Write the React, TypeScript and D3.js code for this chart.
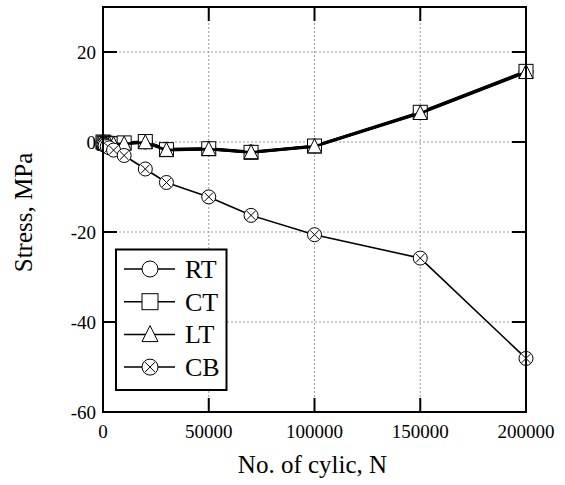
import React from "react";
import * as d3 from "d3";

// Cycle counts shared by all series
const cycles = [0, 500, 1000, 2000, 3000, 5000, 10000, 20000, 30000, 50000, 70000, 100000, 150000, 200000];
const rtStress = [0, -0.2, -0.3, -0.4, -0.4, -0.5, -0.3, 0, -1.6, -1.5, -2.2, -0.9, 6.5, 15.6];
const ctStress = [0, -0.2, -0.3, -0.3, -0.4, -0.4, -0.2, 0.1, -1.7, -1.5, -2.3, -0.9, 6.6, 15.7];
const ltStress = [0, -0.2, -0.4, -0.4, -0.5, -0.5, -0.4, -0.1, -1.8, -1.6, -2.3, -1.0, 6.4, 15.5];
const cbStress = [-0.5, -0.6, -0.8, -1.0, -1.3, -1.8, -3.0, -6.0, -9.0, -12.2, -16.3, -20.6, -25.8, -48.1];

const seriesNames = ["RT", "CT", "LT", "CB"];
const xTicks = [0, 50000, 100000, 150000, 200000];
const yTicks = [20, 0, -20, -40, -60];

const W = 565;
const H = 485;
const left = 103;
const right = 526;
const top = 7;
const bottom = 412;

const x = d3.scaleLinear().domain([0, 200000]).range([left, right]);
const y = d3.scaleLinear().domain([-60, 30]).range([bottom, top]);

const font = "'Liberation Serif', 'Times New Roman', serif";

type Kind = "circle" | "square" | "triangle" | "cross";

function Marker({ kind, cx, cy, s }: { kind: Kind; cx: number; cy: number; s: number }) {
  const r = s / 2;
  const common = { fill: "#fff", stroke: "#000", strokeWidth: 1 };
  if (kind === "circle") return <circle cx={cx} cy={cy} r={r} {...common} />;
  if (kind === "square")
    return <rect x={cx - r} y={cy - r} width={s} height={s} {...common} />;
  if (kind === "triangle") {
    const p = `${cx},${cy - r * 1.1} ${cx - r},${cy + r * 0.9} ${cx + r},${cy + r * 0.9}`;
    return <polygon points={p} {...common} />;
  }
  const d = r * 0.62;
  return (
    <g>
      <circle cx={cx} cy={cy} r={r} {...common} />
      <line x1={cx - d} y1={cy - d} x2={cx + d} y2={cy + d} stroke="#000" strokeWidth={1} />
      <line x1={cx - d} y1={cy + d} x2={cx + d} y2={cy - d} stroke="#000" strokeWidth={1} />
    </g>
  );
}

const series: { name: string; values: number[]; kind: Kind; width: number }[] = [
  { name: seriesNames[0], values: rtStress, kind: "circle", width: 2.8 },
  { name: seriesNames[1], values: ctStress, kind: "square", width: 2.8 },
  { name: seriesNames[2], values: ltStress, kind: "triangle", width: 2.8 },
  { name: seriesNames[3], values: cbStress, kind: "cross", width: 1.6 },
];

export default function App() {
  const line = d3
    .line<number>()
    .x((_, i) => x(cycles[i]))
    .y((v) => y(v));
  const tick = 14;
  const mk = 14;

  return (
    <svg
      width={W}
      height={H}
      style={{ position: "absolute", left: 0, top: 0, background: "#fff" }}
      fontFamily={font}
    >
      <rect width={W} height={H} fill="#fff" />
      {/* grid */}
      {xTicks.slice(1, -1).map((t) => (
        <line key={"gx" + t} x1={x(t)} x2={x(t)} y1={top} y2={bottom} stroke="#999" strokeWidth={1} strokeDasharray="2,2" />
      ))}
      {yTicks.slice(0, -1).map((t) => (
        <line key={"gy" + t} x1={left} x2={right} y1={y(t)} y2={y(t)} stroke="#999" strokeWidth={1} strokeDasharray="2,2" />
      ))}
      {/* ticks */}
      {xTicks.slice(1, -1).map((t) => (
        <g key={"tx" + t}>
          <line x1={x(t)} x2={x(t)} y1={bottom} y2={bottom - tick} stroke="#000" strokeWidth={2} />
          <line x1={x(t)} x2={x(t)} y1={top} y2={top + tick} stroke="#000" strokeWidth={2} />
        </g>
      ))}
      {yTicks.slice(0, -1).map((t) => (
        <g key={"ty" + t}>
          <line x1={left} x2={left + tick} y1={y(t)} y2={y(t)} stroke="#000" strokeWidth={2} />
          <line x1={right} x2={right - tick} y1={y(t)} y2={y(t)} stroke="#000" strokeWidth={2} />
        </g>
      ))}
      {/* tick labels */}
      {xTicks.map((t) => (
        <text key={"lx" + t} x={x(t)} y={438} textAnchor="middle" fontSize={19}>
          {String(t)}
        </text>
      ))}
      {yTicks.map((t) => (
        <text key={"ly" + t} x={96} y={y(t) + 6.5} textAnchor="end" fontSize={19}>
          {String(t)}
        </text>
      ))}
      {/* axis titles */}
      <text x={(left + right) / 2 - 2} y={473} textAnchor="middle" fontSize={25}>
        No. of cylic, N
      </text>
      <text
        transform={`translate(32,${(top + bottom) / 2 + 3}) rotate(-90)`}
        textAnchor="middle"
        fontSize={25}
      >
        Stress, MPa
      </text>
      {/* series */}
      {series.map((s) => (
        <g key={s.name}>
          <path d={line(s.values) || ""} fill="none" stroke="#000" strokeWidth={s.width} strokeLinejoin="round" />
          {s.values.map((v, i) => (
            <Marker key={i} kind={s.kind} cx={x(cycles[i])} cy={y(v)} s={mk} />
          ))}
        </g>
      ))}
      {/* frame */}
      <rect x={left} y={top} width={right - left} height={bottom - top} fill="none" stroke="#000" strokeWidth={2} />
      {/* legend */}
      <g>
        <rect x={116} y={249.5} width={110.5} height={140.5} fill="#fff" stroke="#000" strokeWidth={2} />
        {series.map((s, i) => {
          const ly = 269 + i * 32.7;
          return (
            <g key={"lg" + s.name}>
              <line x1={124} x2={175} y1={ly} y2={ly} stroke="#000" strokeWidth={1.5} />
              <Marker kind={s.kind} cx={150} cy={ly} s={16} />
              <text x={185} y={ly + 9} fontSize={26}>
                {s.name}
              </text>
            </g>
          );
        })}
      </g>
    </svg>
  );
}
